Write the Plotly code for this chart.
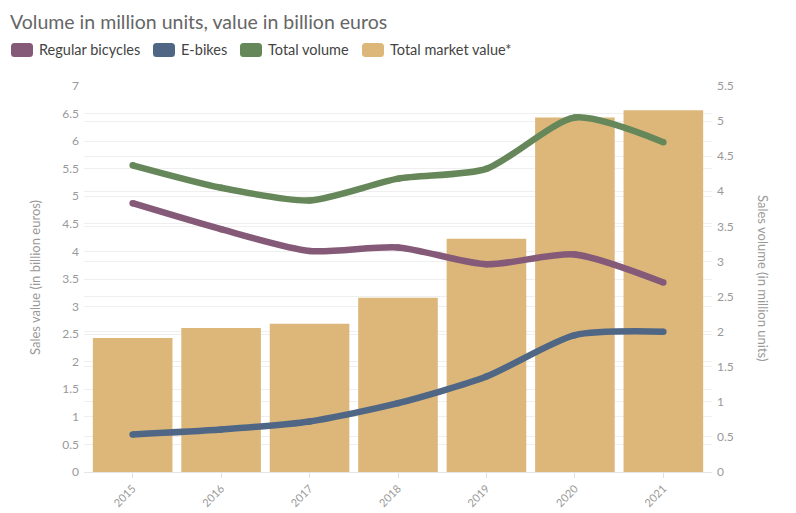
import plotly.graph_objects as go

years = ["2015", "2016", "2017", "2018", "2019", "2020", "2021"]
market_value = [2.43, 2.61, 2.69, 3.16, 4.23, 6.43, 6.56]       # billion euros (left axis)
regular_bikes = [3.83, 3.46, 3.15, 3.20, 2.96, 3.10, 2.70]      # million units (right axis)
e_bikes = [0.535, 0.605, 0.72, 0.98, 1.36, 1.95, 2.00]
total_volume = [4.37, 4.05, 3.87, 4.18, 4.32, 5.05, 4.70]

C_REG = "#845a78"
C_EB = "#4f6785"
C_TOT = "#66875a"
C_BAR = "#ddb77a"
FONT = "Lato"

OFF = 8  # page body margin
W, H = 796 - OFF, 513 - OFF
ML, MT = 84 - OFF, 86 - OFF
PW, PH = 628, 386
MR, MB = W - ML - PW, H - MT - PH

fig = go.Figure()
fig.add_trace(go.Bar(x=years, y=market_value, marker=dict(color=C_BAR, line=dict(width=0)),
                     name="Total market value*", showlegend=False, hoverinfo="x+y"))
for name, vals, col in [("Regular bicycles", regular_bikes, C_REG),
                        ("E-bikes", e_bikes, C_EB),
                        ("Total volume", total_volume, C_TOT)]:
    fig.add_trace(go.Scatter(x=years, y=vals, yaxis="y2", mode="lines+markers", name=name,
                             line=dict(color=col, width=6.5, shape="spline", smoothing=0.7),
                             marker=dict(color=col, size=6.5), showlegend=False))

def px2paper(x, y):
    # x, y in page pixels
    return (x - OFF - ML) / PW, (H - MB - (y - OFF)) / PH

legend_items = [("Regular bicycles", C_REG, 11), ("E-bikes", C_EB, 153),
                ("Total volume", C_TOT, 240), ("Total market value*", C_BAR, 362)]
shapes, annotations = [], []
for label, col, x0 in legend_items:
    x1, y0, y1, r = x0 + 22, 43, 57, 3.5
    def P(x, y):
        a, b = px2paper(x, y)
        return f"{a:.5f},{b:.5f}"
    path = (f"M{P(x0 + r, y0)} L{P(x1 - r, y0)} Q{P(x1, y0)} {P(x1, y0 + r)} "
            f"L{P(x1, y1 - r)} Q{P(x1, y1)} {P(x1 - r, y1)} L{P(x0 + r, y1)} "
            f"Q{P(x0, y1)} {P(x0, y1 - r)} L{P(x0, y0 + r)} Q{P(x0, y0)} {P(x0 + r, y0)} Z")
    shapes.append(dict(type="path", xref="paper", yref="paper", path=path,
                       fillcolor=col, line=dict(width=0)))
    tx, ty = px2paper(x0 + 26, 50)
    annotations.append(dict(xref="paper", yref="paper", x=tx, y=ty, xanchor="left", yanchor="middle",
                            text=label, showarrow=False, font=dict(family=FONT, size=14.5, color="#444")))

# title as annotation
tx, ty = px2paper(9, 9)
annotations.append(dict(xref="paper", yref="paper", x=tx, y=ty, xanchor="left", yanchor="top",
                        text="Volume in million units, value in billion euros", showarrow=False,
                        borderpad=0, font=dict(family=FONT, size=19.5, color="#666")))

ax, ay = px2paper(35, 278)
annotations.append(dict(xref="paper", yref="paper", x=ax, y=ay, text="Sales value (in billion euros)",
                        textangle=-90, showarrow=False, xanchor="center", yanchor="middle",
                        font=dict(family=FONT, size=13, color="#999")))
ax, ay = px2paper(763, 278)
annotations.append(dict(xref="paper", yref="paper", x=ax, y=ay, text="Sales volume (in million units)",
                        textangle=90, showarrow=False, xanchor="center", yanchor="middle",
                        font=dict(family=FONT, size=13, color="#999")))

fig.update_layout(
    width=W, height=H,
    margin=dict(l=ML, r=MR, t=MT, b=MB, autoexpand=False),
    paper_bgcolor="white", plot_bgcolor="white",
    font=dict(family=FONT, color="#999"),
    showlegend=False,
    bargap=0.1,
    xaxis=dict(type="category", range=[-0.55, 6.55], tickangle=-45, tickfont=dict(size=11, color="#999"),
               showgrid=False, showline=True, linecolor="#e6e6e6", linewidth=1,
               ticks="outside", ticklen=5, tickcolor="#e0e0e0"),
    yaxis=dict(range=[0, 7], dtick=0.5, showgrid=True, gridcolor="#efefef", gridwidth=1,
               zeroline=False, tickfont=dict(size=12, color="#999"), ticks="", ticklabelstandoff=4),
    yaxis2=dict(range=[0, 5.5], dtick=0.5, overlaying="y", side="right", showgrid=True,
                gridcolor="#efefef", gridwidth=1, zeroline=False,
                tickfont=dict(size=12, color="#999"), ticks="", ticklabelstandoff=4),
    shapes=shapes, annotations=annotations,
)

fig.write_html("out.html")
